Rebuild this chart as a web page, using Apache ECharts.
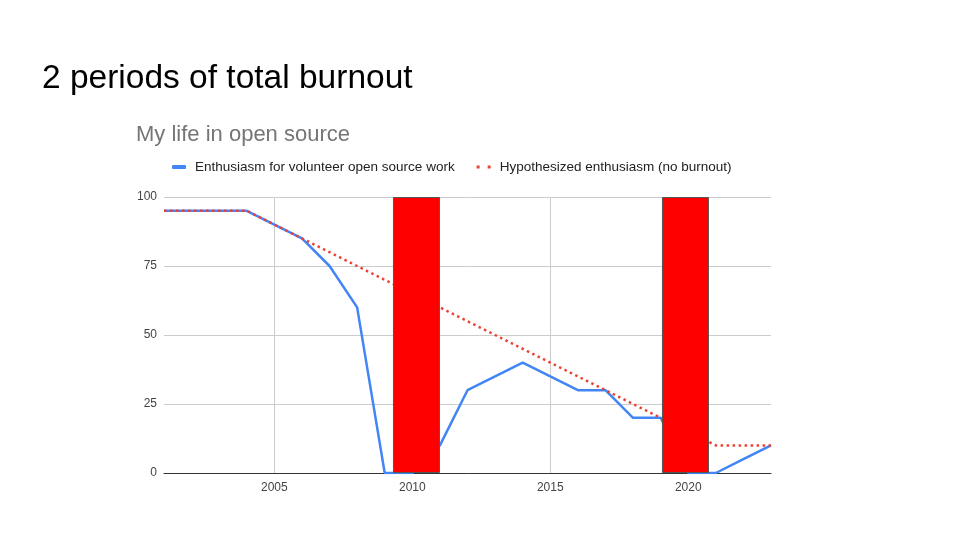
<!DOCTYPE html>
<html>
<head>
<meta charset="utf-8">
<script src="https://cdn.jsdelivr.net/npm/echarts@6/dist/echarts.min.js"></script>
<style>
  html, body { margin: 0; padding: 0; background: #fff; }
  #main { width: 960px; height: 540px; }
</style>
</head>
<body>
<div id="main"></div>
<script>
var years = [2001, 2002, 2003, 2004, 2005, 2006, 2007, 2008, 2009, 2010, 2011, 2012,
             2013, 2014, 2015, 2016, 2017, 2018, 2019, 2020, 2021, 2022, 2023];
// 实际热情
var enthusiasm = [95, 95, 95, 95, 90, 85, 75, 60, 0, 0, 10, 30,
                  35, 40, 35, 30, 30, 20, 20, 0, 0, 5, 10];
// 假设没有倦怠
var hypothesized = [95, 95, 95, 95, 90, 85, 80, 75, 70, 65, 60, 55,
                    50, 45, 40, 35, 30, 25, 20, 15, 10, 10, 10];
// 两次倦怠 (柱子中心位置按图读取)
var burnoutYears = [2010.15, 2019.9];
var burnoutValues = [100, 100];
var xTicks = [2005, 2010, 2015, 2020];

var nameReal = 'Enthusiasm for volunteer open source work';
var nameHypo = 'Hypothesized enthusiasm (no burnout)';

function pairs(xs, ys) {
    return xs.map(function (x, i) { return [x, ys[i]]; });
}

var font = 'Liberation Sans, Arial, sans-serif';
var myChart = echarts.init(document.getElementById('main'));
myChart.setOption({
    animation: false,
    textStyle: { fontFamily: font },
    title: [
        {
            text: '2 periods of total burnout',
            left: 42, top: 62, padding: 0,
            textStyle: { fontSize: 33.5, fontWeight: 'normal', color: '#000', fontFamily: font }
        },
        {
            text: 'My life in open source',
            left: 136, top: 124, padding: 0,
            textStyle: { fontSize: 22, fontWeight: 'normal', color: '#757575', fontFamily: font }
        }
    ],
    legend: {
        left: 172, top: 160, padding: 0,
        itemWidth: 14, itemHeight: 4,
        itemGap: 22,
        textStyle: { fontSize: 13.5, color: '#222', padding: [0, 0, 0, 4], fontFamily: font },
        data: [
            { name: nameReal, icon: 'roundRect' },
            { name: nameHypo, icon: 'path://M0,0h3v3h-3z M11,0h3v3h-3z' }
        ]
    },
    grid: { left: 164, right: 189, top: 197, bottom: 67, containLabel: false },
    xAxis: {
        type: 'value',
        min: 2001, max: 2023,
        axisLine: { show: true, onZero: false, lineStyle: { color: '#333', width: 1 } },
        axisTick: { show: false, customValues: xTicks },
        axisLabel: { customValues: xTicks, fontSize: 12, color: '#444', margin: 9,
                     formatter: function (v) { return String(v); } },
        splitLine: { show: true, lineStyle: { color: '#ccc', width: 1 } }
    },
    yAxis: {
        type: 'value',
        min: 0, max: 100, interval: 25,
        axisLine: { show: false },
        axisTick: { show: false },
        axisLabel: { fontSize: 12, color: '#444', margin: 7 },
        splitLine: { lineStyle: { color: '#ccc', width: 1 } }
    },
    series: [
        {
            name: nameReal,
            type: 'line',
            data: pairs(years, enthusiasm),
            showSymbol: false,
            symbol: 'none',
            z: 2,
            itemStyle: { color: '#4285F4' },
            lineStyle: { color: '#4285F4', width: 2.5 }
        },
        {
            name: nameHypo,
            type: 'line',
            data: pairs(years, hypothesized),
            showSymbol: false,
            symbol: 'none',
            z: 3,
            itemStyle: { color: '#EA4335' },
            lineStyle: { color: '#EA4335', width: 2.5, type: [2.5, 3.5] }
        },
        {
            name: 'burnout',
            type: 'bar',
            data: pairs(burnoutYears, burnoutValues),
            barWidth: 47,
            z: 4,
            itemStyle: { color: '#ff0000', borderColor: '#555', borderWidth: 1 }
        }
    ]
});
</script>
</body>
</html>
